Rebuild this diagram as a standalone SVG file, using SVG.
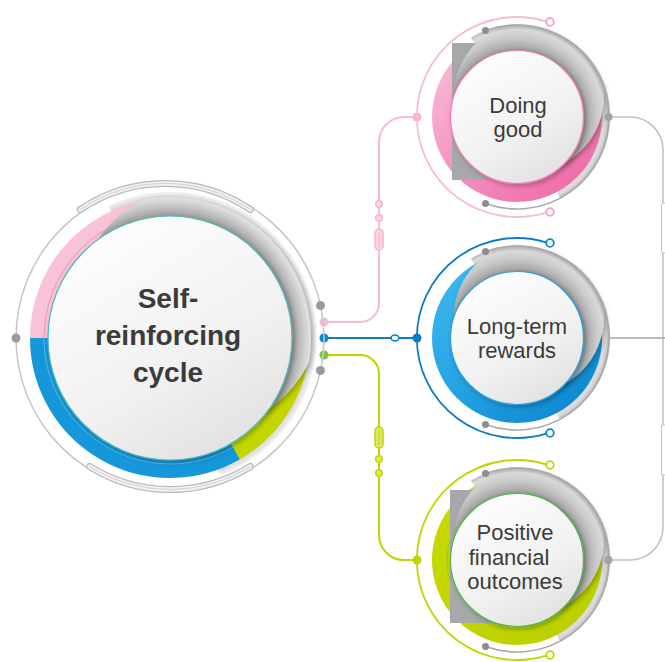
<svg xmlns="http://www.w3.org/2000/svg" width="665" height="662" viewBox="0 0 665 662">
<style>
.t{font-family:"Liberation Sans",Arial,sans-serif;fill:#3b3b3b;text-anchor:middle}
.big{font-size:28px;font-weight:bold}
.sm{font-size:22px}
.gdot{fill:#8d8d8d}
.gline{fill:none;stroke:#aaaaaa;stroke-width:1.6}
.conn{fill:none;stroke-width:2}
</style>
<defs>
<filter id="sh" x="-20%" y="-20%" width="140%" height="140%"><feDropShadow dx="2" dy="2" stdDeviation="2.5" flood-color="#000" flood-opacity="0.28"/></filter>
<linearGradient id="disc" x1="0.25" y1="0.1" x2="0.75" y2="0.95"><stop offset="0" stop-color="#fcfcfc"/><stop offset="0.6" stop-color="#f1f1f1"/><stop offset="1" stop-color="#e2e2e2"/></linearGradient>
<radialGradient id="lidC" gradientUnits="userSpaceOnUse" cx="0" cy="0" r="142"><stop offset="0.85" stop-color="#969696"/><stop offset="0.9" stop-color="#b4b4b4"/><stop offset="0.95" stop-color="#cfcfcf"/><stop offset="0.99" stop-color="#e2e2e2"/><stop offset="1" stop-color="#cdcdcd"/></radialGradient>
<radialGradient id="baseC" gradientUnits="userSpaceOnUse" cx="0" cy="0" r="147"><stop offset="0.83" stop-color="#a3a3a3"/><stop offset="0.9" stop-color="#c2c2c2"/><stop offset="0.96" stop-color="#dedede"/><stop offset="1" stop-color="#f7f7f7"/></radialGradient>
<radialGradient id="lidS" gradientUnits="userSpaceOnUse" cx="0" cy="0" r="91"><stop offset="0.72" stop-color="#929292"/><stop offset="0.77" stop-color="#ababab"/><stop offset="0.87" stop-color="#c9c9c9"/><stop offset="0.96" stop-color="#d9d9d9"/><stop offset="1" stop-color="#b2b2b2"/></radialGradient>
<radialGradient id="baseS" gradientUnits="userSpaceOnUse" cx="0" cy="0" r="92"><stop offset="0.86" stop-color="#c9c9c9"/><stop offset="0.95" stop-color="#dedede"/><stop offset="1" stop-color="#bdbdbd"/></radialGradient>
<linearGradient id="pinkBand" gradientUnits="userSpaceOnUse" x1="-80" y1="-60" x2="60" y2="85"><stop offset="0" stop-color="#f8bcd5"/><stop offset="0.5" stop-color="#f48fbf"/><stop offset="1" stop-color="#ee68a6"/></linearGradient>
<linearGradient id="blueBand" gradientUnits="userSpaceOnUse" x1="-80" y1="-60" x2="60" y2="85"><stop offset="0" stop-color="#3db7ee"/><stop offset="0.5" stop-color="#22a1e2"/><stop offset="1" stop-color="#0a86d0"/></linearGradient>
<linearGradient id="greenBand" gradientUnits="userSpaceOnUse" x1="-80" y1="-60" x2="60" y2="85"><stop offset="0" stop-color="#c9d800"/><stop offset="1" stop-color="#bcd000"/></linearGradient>
<clipPath id="clipC" clipPathUnits="userSpaceOnUse"><circle r="141"/></clipPath>
<clipPath id="clipS" clipPathUnits="userSpaceOnUse"><circle r="91"/></clipPath>
</defs>
<rect width="665" height="662" fill="#ffffff"/>

<g id="connectors">
  <path class="conn" stroke="#f7bcd5" d="M324,322 H360 A19,19 0 0 0 379,303 V142 A25,25 0 0 1 404,117 H417"/>
  <circle cx="379" cy="204" r="3.3" fill="#fbd6e6" stroke="#f5b5d0" stroke-width="1.5"/>
  <circle cx="379" cy="218" r="3.3" fill="#fbd6e6" stroke="#f5b5d0" stroke-width="1.5"/>
  <rect x="375" y="229" width="8" height="21" rx="4" fill="#fbd6e6" stroke="#f5b5d0" stroke-width="1.5"/>
  <line x1="379" y1="232" x2="379" y2="247" stroke="#f5b5d0" stroke-width="1"/>
  <path class="conn" stroke="#0a7cc5" d="M324,338 H417"/>
  <ellipse cx="395" cy="338" rx="3.8" ry="3" fill="#ffffff" stroke="#0a7cc5" stroke-width="1.5"/>
  <path class="conn" stroke="#c2d400" d="M324,355 H360 A19,19 0 0 1 379,374 V535 A25,25 0 0 0 404,560 H417"/>
  <rect x="375" y="427" width="8" height="21" rx="4" fill="#dde86a" stroke="#c2d400" stroke-width="1.5"/>
  <line x1="379" y1="430" x2="379" y2="445" stroke="#c2d400" stroke-width="1"/>
  <circle cx="379" cy="459" r="3.3" fill="#dde86a" stroke="#c2d400" stroke-width="1.5"/>
  <circle cx="379" cy="473" r="3.3" fill="#dde86a" stroke="#c2d400" stroke-width="1.5"/>
  <path fill="none" stroke="#c2c2c2" stroke-width="1.6" d="M608,117 H630 A33,33 0 0 1 663,150 V527 A33,33 0 0 1 630,560 H608"/>
  <path fill="none" stroke="#a3a3a3" stroke-width="1.6" d="M610,338 H665"/>
  <rect x="661.5" y="203" width="8" height="50" rx="2" fill="#ffffff" stroke="#c8c8c8" stroke-width="1.2"/>
  <rect x="661.5" y="425" width="8" height="50" rx="2" fill="#ffffff" stroke="#c8c8c8" stroke-width="1.2"/>
  <circle cx="324" cy="322" r="4.5" fill="#f7bcd5"/>
  <circle cx="324" cy="338" r="4.5" fill="#0a84cf"/>
  <circle cx="324" cy="355" r="4.5" fill="#7cc242"/>
  <circle cx="417" cy="117" r="4.5" fill="#f7b5d1"/>
  <circle cx="417" cy="338" r="4.5" fill="#0a7cc5"/>
  <circle cx="417" cy="560" r="4.5" fill="#c2d400"/>
</g>

<g id="node-self-reinforcing-cycle" transform="translate(170,338)">
  <circle r="154" fill="none" stroke="#c6c6c6" stroke-width="1.5"/>
  <path d="M-89.7,-128.5 A151.5,151.5 0 0 1 80.3,-128.5" fill="none" stroke="#b9b9b9" stroke-width="7" stroke-linecap="round"/>
  <path d="M-89.7,-128.5 A151.5,151.5 0 0 1 80.3,-128.5" fill="none" stroke="#f1f1f1" stroke-width="4.5" stroke-linecap="round"/>
  <path d="M-89.7,-128.5 A151.5,151.5 0 0 1 80.3,-128.5" fill="none" stroke="#c9c9c9" stroke-width="0.8"/>
  <path d="M80.3,128.5 A151.5,151.5 0 0 1 -80.3,128.5" fill="none" stroke="#b9b9b9" stroke-width="7" stroke-linecap="round"/>
  <path d="M80.3,128.5 A151.5,151.5 0 0 1 -80.3,128.5" fill="none" stroke="#f1f1f1" stroke-width="4.5" stroke-linecap="round"/>
  <path d="M80.3,128.5 A151.5,151.5 0 0 1 -80.3,128.5" fill="none" stroke="#c9c9c9" stroke-width="0.8"/>
  <path d="M-56.6,-121.4 A134,134 0 1 1 45.8,125.9" fill="none" stroke="url(#baseC)" stroke-width="24"/>
  <path d="M-131,0 A131,131 0 0 1 -18.2,-129.7" fill="none" stroke="#f8c3d9" stroke-width="18"/>
  <path d="M65.5,113.4 A131,131 0 0 1 -131,0" fill="none" stroke="#1597da" stroke-width="18"/>
  <path d="M130.5,11.4 A131,131 0 0 1 65.5,113.4" fill="none" stroke="#c4d600" stroke-width="18"/>
  <path d="M-126,0 A126,126 0 0 1 -17.5,-124.8" fill="none" stroke="#f28fc0" stroke-width="1"/>
  <path d="M63,109.1 A126,126 0 0 1 -126,0" fill="none" stroke="#4fbcef" stroke-width="1"/>
  <g filter="url(#sh)"><circle cx="28.8" cy="-29.3" r="122.4" fill="url(#lidC)" clip-path="url(#clipC)"/></g>
  <circle r="122" fill="url(#disc)" stroke="#4dbab4" stroke-width="1.2" filter="url(#sh)"/>
  <circle cx="-154" cy="0" r="4.5" fill="#9b9b9b"/>
  <circle cx="150.5" cy="-32.5" r="4.5" fill="#9b9b9b"/>
  <circle cx="150.5" cy="32.5" r="4.5" fill="#9b9b9b"/>
  <text class="t big" x="-2" y="-30">Self-</text>
  <text class="t big" x="-2" y="7">reinforcing</text>
  <text class="t big" x="-2" y="44">cycle</text>
</g>

<g id="node-doing-good" transform="translate(517,117)">
  <path d="M29.2,-95.6 A100,100 0 1 0 29.2,95.6" fill="none" stroke="#f7bcd5" stroke-width="1.8"/>
  <circle cx="33" cy="-95" r="3.8" fill="#ffffff" stroke="#f39cc6" stroke-width="1.8"/>
  <circle cx="33" cy="95" r="3.8" fill="#ffffff" stroke="#f39cc6" stroke-width="1.8"/>
  <path d="M-43.5,-75.3 A87,87 0 1 1 40.8,76.8" fill="none" stroke="url(#baseS)" stroke-width="10"/>
  <circle r="75.5" fill="none" stroke="url(#pinkBand)" stroke-width="19"/>
  <path d="M-65,-74 H46 A87.5,87.5 0 0 1 73,-48 V-5 L-20,63 H-65 Z" fill="#a7a8aa"/>
  <g filter="url(#sh)"><circle cx="11.7" cy="-20.3" r="75.1" fill="url(#lidS)" clip-path="url(#clipS)"/></g>
  <path class="gline" d="M-31.5,-86.5 A92,92 0 1 1 -31.5,86.5"/>
  <circle class="gdot" cx="-31.5" cy="-86.5" r="3.5"/>
  <circle class="gdot" cx="-31.5" cy="86.5" r="3.5"/>
  <circle cx="91.5" cy="0" r="4" fill="#a3a3a3"/>
  <circle r="66.5" fill="url(#disc)" stroke="#f07ab2" stroke-width="1.2" filter="url(#sh)"/>
  <text class="t sm" x="1" y="-4">Doing</text>
  <text class="t sm" x="1" y="20">good</text>
</g>

<g id="node-long-term-rewards" transform="translate(517,338)">
  <path d="M29.2,-95.6 A100,100 0 1 0 29.2,95.6" fill="none" stroke="#0a7cc5" stroke-width="1.8"/>
  <circle cx="33" cy="-95" r="3.8" fill="#ffffff" stroke="#0a86d0" stroke-width="1.8"/>
  <circle cx="33" cy="95" r="3.8" fill="#ffffff" stroke="#0a86d0" stroke-width="1.8"/>
  <path d="M-43.5,-75.3 A87,87 0 1 1 40.8,76.8" fill="none" stroke="url(#baseS)" stroke-width="10"/>
  <circle r="75.5" fill="none" stroke="url(#blueBand)" stroke-width="19"/>
  <g filter="url(#sh)"><circle cx="11.7" cy="-20.3" r="75.1" fill="url(#lidS)" clip-path="url(#clipS)"/></g>
  <path class="gline" d="M-31.5,-86.5 A92,92 0 1 1 -31.5,86.5"/>
  <circle class="gdot" cx="-31.5" cy="-86.5" r="3.5"/>
  <circle class="gdot" cx="-31.5" cy="86.5" r="3.5"/>
  <circle r="66.5" fill="url(#disc)" stroke="#2a9ee0" stroke-width="1.2" filter="url(#sh)"/>
  <text class="t sm" x="0" y="-4">Long-term</text>
  <text class="t sm" x="0" y="20">rewards</text>
</g>

<g id="node-positive-financial-outcomes" transform="translate(517,560)">
  <path d="M29.2,-95.6 A100,100 0 1 0 29.2,95.6" fill="none" stroke="#c2d400" stroke-width="1.8"/>
  <circle cx="33" cy="-95" r="3.8" fill="#ffffff" stroke="#c2d400" stroke-width="1.8"/>
  <circle cx="33" cy="95" r="3.8" fill="#ffffff" stroke="#c2d400" stroke-width="1.8"/>
  <path d="M-43.5,-75.3 A87,87 0 1 1 40.8,76.8" fill="none" stroke="url(#baseS)" stroke-width="10"/>
  <circle r="75.5" fill="none" stroke="url(#greenBand)" stroke-width="19"/>
  <circle r="70" fill="none" stroke="#8fc53f" stroke-width="0.8"/>
  <path d="M-67,-70 H46 A87.5,87.5 0 0 1 73,-48 V-5 L-20,63 H-67 Z" fill="#a7a8aa"/>
  <g filter="url(#sh)"><circle cx="11.7" cy="-20.3" r="75.1" fill="url(#lidS)" clip-path="url(#clipS)"/></g>
  <path class="gline" d="M-31.5,-86.5 A92,92 0 1 1 -31.5,86.5"/>
  <circle class="gdot" cx="-31.5" cy="-86.5" r="3.5"/>
  <circle class="gdot" cx="-31.5" cy="86.5" r="3.5"/>
  <circle cx="91.5" cy="0" r="4" fill="#a3a3a3"/>
  <circle r="66.5" fill="url(#disc)" stroke="#4db848" stroke-width="1.2" filter="url(#sh)"/>
  <text class="t sm" x="-2" y="-20">Positive</text>
  <text class="t sm" x="-8" y="4.5">financial</text>
  <text class="t sm" x="-2" y="29">outcomes</text>
</g>
</svg>
